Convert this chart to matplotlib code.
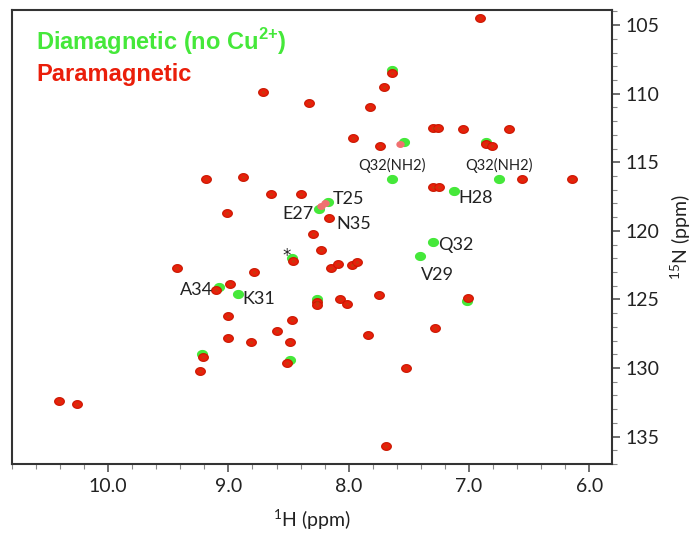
import numpy as np
import matplotlib
matplotlib.use("Agg")
import matplotlib.pyplot as plt
from matplotlib.path import Path
from matplotlib.ticker import MultipleLocator, FormatStrFormatter

plt.rcParams["mathtext.fontset"] = "custom"
plt.rcParams["mathtext.rm"] = "Lato"
plt.rcParams["mathtext.bf"] = "Liberation Sans:bold"

# Paramagnetic peaks (1H ppm, 15N ppm)
para_H = [6.91, 7.64, 7.71, 7.82, 7.96, 7.30, 7.26, 7.05, 6.67, 7.74, 6.86, 6.81,
          6.56, 6.14, 7.30, 7.25, 9.19, 8.88, 8.65, 8.40, 9.01, 8.16, 8.30, 8.23,
          8.46, 9.43, 8.79, 9.10, 8.99, 8.15, 8.09, 7.97, 7.93, 8.26, 8.26, 8.07,
          8.01, 7.75, 7.01, 7.84, 7.28, 9.00, 8.47, 8.60, 9.00, 8.81, 8.49, 9.21,
          9.24, 8.51, 10.41, 10.26, 7.52, 7.69, 8.71, 8.33]
para_N = [104.5, 108.5, 109.5, 111.0, 113.2, 112.5, 112.5, 112.6, 112.6, 113.8, 113.7, 113.8,
          116.2, 116.2, 116.8, 116.8, 116.2, 116.1, 117.3, 117.3, 118.7, 119.1, 120.2, 121.4,
          122.2, 122.7, 123.0, 124.3, 123.9, 122.7, 122.4, 122.5, 122.3, 125.2, 125.4, 125.0,
          125.3, 124.7, 124.9, 127.6, 127.1, 126.2, 126.5, 127.3, 127.8, 128.1, 128.1, 129.2,
          130.2, 129.6, 132.4, 132.6, 130.0, 135.7, 109.9, 110.7]

# weak paramagnetic contours
weak_H = [7.57, 8.23, 8.20]
weak_N = [113.7, 118.2, 118.0]

# Diamagnetic peaks visible in the overlay
dia_H = [7.64, 7.54, 6.86, 7.64, 6.75, 7.12, 8.17, 8.25, 7.30, 7.41, 9.08, 8.92,
         8.49, 9.22, 8.26, 8.47, 7.02]
dia_N = [108.3, 113.5, 113.5, 116.2, 116.2, 117.1, 117.9, 118.4, 120.8, 121.8, 124.1, 124.6,
         129.4, 129.0, 125.0, 122.0, 125.1]

labels = ["Q32(NH2)", "Q32(NH2)", "T25", "E27", "N35", "H28", "Q32", "V29", "A34", "K31", "*"]
label_H = [7.64, 6.75, 8.13, 8.29, 8.10, 7.09, 7.26, 7.40, 9.13, 8.88, 8.52]
label_N = [115.2, 115.2, 117.7, 118.8, 119.5, 117.6, 121.0, 123.2, 124.3, 125.0, 121.8]
label_ha = ["center", "center", "left", "right", "left", "left", "left", "left", "right", "left", "center"]
label_size = [10.5, 10.5, 13, 13, 13, 13, 13, 13, 13, 13, 12]
label_font = ["Lato"] * 10 + ["DejaVu Sans"]

red = "#ea1e0a"
green = "#45e83a"

t = np.linspace(0, 2 * np.pi, 40)
ellipse = Path(np.column_stack([np.cos(t), 0.8 * np.sin(t)]), closed=True)

fig = plt.figure(figsize=(6.99, 5.35), dpi=100)
ax = fig.add_axes([12 / 699, 1 - 464 / 535, 600 / 699, 454 / 535])

ax.plot(dia_H, dia_N, linestyle="none", marker=ellipse, ms=7, color=green, mec=green)
ax.plot(weak_H, weak_N, linestyle="none", marker=ellipse, ms=5, color="#f07070", mec="#f07070")
ax.plot(para_H, para_N, linestyle="none", marker=ellipse, ms=7, color=red, mec="#c81800", mew=0.8)
ax.plot(para_H, para_N, linestyle="none", marker=ellipse, ms=2.5, color="#b04a10", mec="none", alpha=0.6)

for s, h, n, ha, fs, ff in zip(labels, label_H, label_N, label_ha, label_size, label_font):
    ax.text(h, n, s, ha=ha, va="center", fontsize=fs, family=ff, color="#222222")

ax.set_xlim(10.8, 5.81)
ax.set_ylim(137.0, 103.9)

ax.xaxis.set_major_locator(MultipleLocator(1.0))
ax.xaxis.set_minor_locator(MultipleLocator(0.2))
ax.xaxis.set_major_formatter(FormatStrFormatter("%.1f"))
ax.yaxis.set_major_locator(MultipleLocator(5))
ax.yaxis.set_minor_locator(MultipleLocator(1))
ax.yaxis.tick_right()
ax.yaxis.set_label_position("right")

for sp in ax.spines.values():
    sp.set_color("#333333")
    sp.set_linewidth(1.5)
ax.tick_params(which="major", direction="out", length=6, width=1.2, color="#555555",
               labelsize=14, pad=4)
ax.tick_params(which="minor", direction="out", length=3.5, width=0.8, color="#888888")
for lab in ax.get_xticklabels() + ax.get_yticklabels():
    lab.set_family("Lato")
    lab.set_color("#222222")

ax.set_xlabel("$^{1}$H (ppm)", fontsize=14, family="Lato", color="#222222", labelpad=9)
ax.set_ylabel("$^{15}$N (ppm)", fontsize=14, family="Lato", color="#222222", labelpad=6,
              rotation=90)

fig.text(36 / 699, 1 - 42 / 535, r"Diamagnetic (no Cu$^{\mathbf{2{+}}}$)", color=green,
         fontsize=17, fontweight="bold", family="Liberation Sans", va="center")
fig.text(36 / 699, 1 - 74 / 535, "Paramagnetic", color=red, fontsize=17,
         fontweight="bold", family="Liberation Sans", va="center")

fig.savefig("out.png", dpi=100)
